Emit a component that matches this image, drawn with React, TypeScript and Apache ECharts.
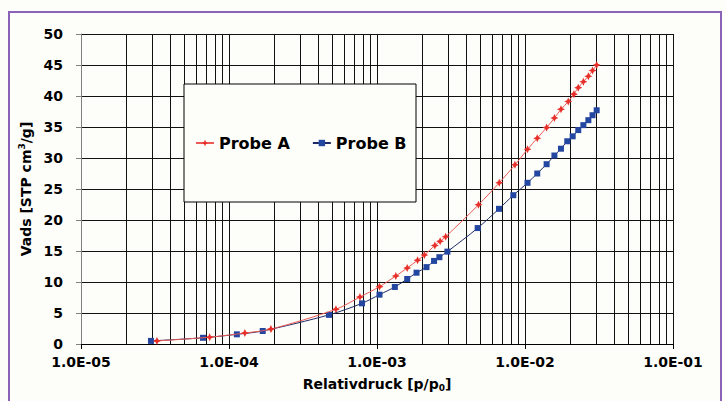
import React, { useEffect, useRef } from "react";
import * as echarts from "echarts";

// Probe A (red)
const probeAX = [3.26e-5, 7.4e-5, 1.28e-4, 1.92e-4, 5.28e-4, 7.67e-4, 1.04e-3, 1.34e-3, 1.6e-3, 1.88e-3, 2.09e-3, 2.46e-3, 2.67e-3, 2.91e-3, 4.85e-3, 6.7e-3, 8.55e-3, 1.04e-2, 1.21e-2, 1.4e-2, 1.58e-2, 1.75e-2, 1.96e-2, 2.14e-2, 2.29e-2, 2.48e-2, 2.68e-2, 2.86e-2, 3.05e-2];
const probeAY = [0.5, 1.1, 1.77, 2.4, 5.6, 7.58, 9.25, 10.97, 12.26, 13.5, 14.35, 15.9, 16.56, 17.3, 22.45, 26.0, 28.9, 31.4, 33.2, 34.9, 36.45, 37.85, 39.1, 40.3, 41.35, 42.3, 43.2, 44.1, 45.0];

// Probe B (blue)
const probeBX = [2.97e-5, 6.67e-5, 1.13e-4, 1.69e-4, 4.74e-4, 7.92e-4, 1.04e-3, 1.32e-3, 1.6e-3, 1.85e-3, 2.16e-3, 2.43e-3, 2.64e-3, 2.99e-3, 4.79e-3, 6.67e-3, 8.34e-3, 1.04e-2, 1.21e-2, 1.4e-2, 1.58e-2, 1.75e-2, 1.93e-2, 2.1e-2, 2.29e-2, 2.48e-2, 2.68e-2, 2.86e-2, 3.05e-2];
const probeBY = [0.5, 1.0, 1.56, 2.1, 4.7, 6.56, 7.96, 9.2, 10.48, 11.5, 12.4, 13.4, 14.0, 14.9, 18.7, 21.8, 24.0, 26.0, 27.5, 29.0, 30.4, 31.5, 32.7, 33.5, 34.5, 35.3, 36.1, 36.9, 37.7];

// Axis structure
const decades = [1e-5, 1e-4, 1e-3, 1e-2];
const minorMultipliers = [2, 3, 4, 5, 6, 7, 8, 9];
const seriesNames = ["Probe A", "Probe B"];
const yMin = 0;
const yMax = 50;

const FONT = "DejaVu Sans";

function fmtExp(v: number): string {
  const e = Math.round(Math.log10(v));
  const sign = e < 0 ? "-" : "+";
  return "1.0E" + sign + String(Math.abs(e)).padStart(2, "0");
}

export default function App() {
  const ref = useRef<HTMLDivElement>(null);
  useEffect(() => {
    if (!ref.current) return;
    const chart = echarts.init(ref.current, undefined, { renderer: "svg" });
    const minorValues: number[] = [];
    decades.forEach((d) => minorMultipliers.forEach((m) => minorValues.push(d * m)));

    chart.setOption({
      animation: false,
      backgroundColor: "#fdfdf9",
      grid: { left: 81, right: 53, top: 34, bottom: 57 },
      legend: {
        left: 195,
        top: 135,
        z: 20,
        padding: 0,
        itemGap: 22,
        itemWidth: 18,
        itemHeight: 8,
        data: seriesNames,
        textStyle: { fontFamily: FONT, fontWeight: "bold", fontSize: 16, color: "#000" },
      },
      graphic: [
        {
          type: "rect",
          z: 10,
          shape: { x: 184, y: 84, width: 232, height: 118 },
          style: { fill: "#fdfdf9", stroke: "#000", lineWidth: 1 },
        },
        {
          type: "rect",
          z: 30,
          shape: { x: 9, y: 12, width: 712, height: 400 },
          style: { fill: "none", stroke: "#8a63b8", lineWidth: 2 },
        },
      ],
      xAxis: {
        type: "log",
        logBase: 10,
        min: 1e-5,
        max: 1e-1,
        name: "Relativdruck [p/p{sub|0}]",
        nameLocation: "middle",
        nameGap: 31,
        nameTextStyle: {
          fontFamily: FONT,
          fontWeight: "bold",
          fontSize: 14,
          color: "#000",
          rich: {
            sub: { fontFamily: FONT, fontWeight: "bold", fontSize: 9, color: "#000", padding: [8, 0, 0, 0] },
          },
        },
        axisLine: { show: true, lineStyle: { color: "#000", width: 1 } },
        axisTick: { show: true, length: 5, lineStyle: { color: "#000" } },
        axisLabel: {
          formatter: fmtExp,
          margin: 11,
          fontFamily: FONT,
          fontWeight: "bold",
          fontSize: 14,
          color: "#000",
        },
        splitLine: { show: true, showMaxLine: false, lineStyle: { color: "#111", width: 1 } },
      },
      yAxis: {
        type: "value",
        min: yMin,
        max: yMax,
        interval: 5,
        name: "Vads [STP cm{sup|3}/g]",
        nameLocation: "middle",
        nameGap: 41,
        nameTextStyle: {
          fontFamily: FONT,
          fontWeight: "bold",
          fontSize: 14,
          color: "#000",
          rich: {
            sup: { fontFamily: FONT, fontWeight: "bold", fontSize: 9, color: "#000", padding: [0, 0, 8, 0] },
          },
        },
        axisLine: { show: true, lineStyle: { color: "#808080", width: 1 } },
        axisTick: { show: true, length: 5, lineStyle: { color: "#808080" } },
        axisLabel: { margin: 18, fontFamily: FONT, fontWeight: "bold", fontSize: 14, color: "#000" },
        splitLine: { show: true, lineStyle: { color: "#111", width: 1 } },
      },
      series: [
        {
          name: "minorGrid",
          type: "custom",
          silent: true,
          z: 1,
          data: minorValues.map((v) => [v]),
          renderItem: (params: any, api: any) => {
            const v = api.value(0);
            const p0 = api.coord([v, yMin]);
            const p1 = api.coord([v, yMax]);
            return {
              type: "line",
              shape: { x1: Math.round(p0[0]) + 0.5, y1: p0[1], x2: Math.round(p1[0]) + 0.5, y2: p1[1] },
              style: { stroke: "#111", lineWidth: 1 },
            };
          },
        },
        {
          name: seriesNames[0],
          type: "line",
          smooth: 0.3,
          data: probeAX.map((x, i) => [x, probeAY[i]]),
          symbol: "path://M0,-5 L1.6,-1.6 L5,0 L1.6,1.6 L0,5 L-1.6,1.6 L-5,0 L-1.6,-1.6 Z",
          symbolSize: 8,
          itemStyle: { color: "#e8302a" },
          lineStyle: { color: "#ec5a55", width: 1 },
          z: 5,
        },
        {
          name: seriesNames[1],
          type: "line",
          smooth: 0.3,
          data: probeBX.map((x, i) => [x, probeBY[i]]),
          symbol: "rect",
          symbolSize: 6,
          itemStyle: { color: "#2346a0" },
          lineStyle: { color: "#1e2a66", width: 1 },
          z: 4,
        },
      ],
    });
    return () => chart.dispose();
  }, []);
  return <div ref={ref} style={{ position: "fixed", left: 0, top: 0, width: 726, height: 401 }} />;
}
